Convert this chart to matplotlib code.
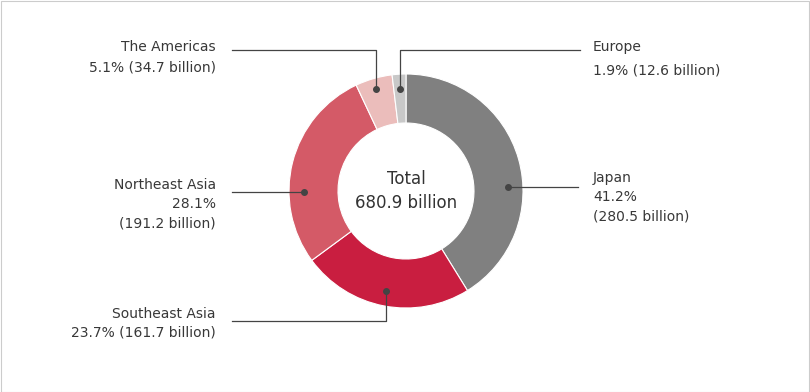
import matplotlib
matplotlib.use("Agg")
import matplotlib.pyplot as plt
import numpy as np
from matplotlib.patches import Rectangle

plt.rcParams['font.family'] = ['DejaVu Sans']

regions = ["Japan", "Southeast Asia", "Northeast Asia", "The Americas", "Europe"]
shares = [41.2, 23.7, 28.1, 5.1, 1.9]
amounts = [280.5, 161.7, 191.2, 34.7, 12.6]
colors = ["#808080", "#C91E40", "#D45A67", "#EBBDBB", "#C8C8C8"]
total_label = "Total\n680.9 billion"

W, H = 810, 392
fig = plt.figure(figsize=(W / 100, H / 100), dpi=100)
ax = fig.add_axes([0, 0, 1, 1])
ax.set_xlim(0, W)
ax.set_ylim(0, H)
ax.set_aspect('equal')
ax.axis('off')

def Y(y):
    return H - y

cx, cy = 406, 191
R, r = 117, 68
ax.pie(shares, colors=colors, startangle=90, counterclock=False,
       center=(cx, Y(cy)), radius=R, frame=True,
       wedgeprops=dict(width=R - r, edgecolor='white', linewidth=0.8))
ax.set_xlim(0, W)
ax.set_ylim(0, H)
ax.axis('off')

ax.text(cx, Y(cy), total_label, ha='center', va='center', fontsize=12,
        color='#333333', linespacing=1.4)

lc = '#444444'
tc = '#383838'
fs = 10

def dot(ang, rad=102):
    a = np.deg2rad(ang)
    return cx + rad * np.cos(a), cy - rad * np.sin(a)

# Japan
x0, y0 = dot(2)
ax.plot([x0, 578], [Y(y0), Y(y0)], color=lc, lw=0.9)
ax.plot(x0, Y(y0), 'o', color='#444444', ms=4)
ax.text(593, Y(178), regions[0], ha='left', va='center', fontsize=fs, color=tc)
ax.text(593, Y(197), f"{shares[0]}%", ha='left', va='center', fontsize=fs, color=tc)
ax.text(593, Y(216), f"({amounts[0]} billion)", ha='left', va='center', fontsize=fs, color=tc)

# Southeast Asia
x0, y0 = dot(-101.5)
ax.plot([x0, x0, 232], [Y(y0), Y(321), Y(321)], color=lc, lw=0.9)
ax.plot(x0, Y(y0), 'o', color='#444444', ms=4)
ax.text(216, Y(314), regions[1], ha='right', va='center', fontsize=fs, color=tc)
ax.text(216, Y(333), f"{shares[1]}% ({amounts[1]} billion)", ha='right', va='center', fontsize=fs, color=tc)

# Northeast Asia
x0, y0 = dot(180.5)
ax.plot([x0, 232], [Y(y0), Y(y0)], color=lc, lw=0.9)
ax.plot(x0, Y(y0), 'o', color='#444444', ms=4)
ax.text(216, Y(185), regions[2], ha='right', va='center', fontsize=fs, color=tc)
ax.text(216, Y(204), f"{shares[2]}%", ha='right', va='center', fontsize=fs, color=tc)
ax.text(216, Y(223), f"({amounts[2]} billion)", ha='right', va='center', fontsize=fs, color=tc)

# The Americas
x0, y0 = dot(106.4, 106)
ax.plot([x0, x0, 232], [Y(y0), Y(50), Y(50)], color=lc, lw=0.9)
ax.plot(x0, Y(y0), 'o', color='#444444', ms=4)
ax.text(216, Y(47), regions[3], ha='right', va='center', fontsize=fs, color=tc)
ax.text(216, Y(67), f"{shares[3]}% ({amounts[3]} billion)", ha='right', va='center', fontsize=fs, color=tc)

# Europe
x0, y0 = dot(93.4)
ax.plot([x0, x0, 580], [Y(y0), Y(50), Y(50)], color=lc, lw=0.9)
ax.plot(x0, Y(y0), 'o', color='#444444', ms=4)
ax.text(593, Y(47), regions[4], ha='left', va='center', fontsize=fs, color=tc)
ax.text(593, Y(70), f"{shares[4]}% ({amounts[4]} billion)", ha='left', va='center', fontsize=fs, color=tc)

# border
fig.patches.append(Rectangle((0.5 / W, 0.5 / H), 1 - 1.5 / W, 1 - 1.5 / H,
                             transform=fig.transFigure, fill=False,
                             edgecolor='#CCCCCC', lw=0.8))

fig.savefig('out.png', dpi=100)
